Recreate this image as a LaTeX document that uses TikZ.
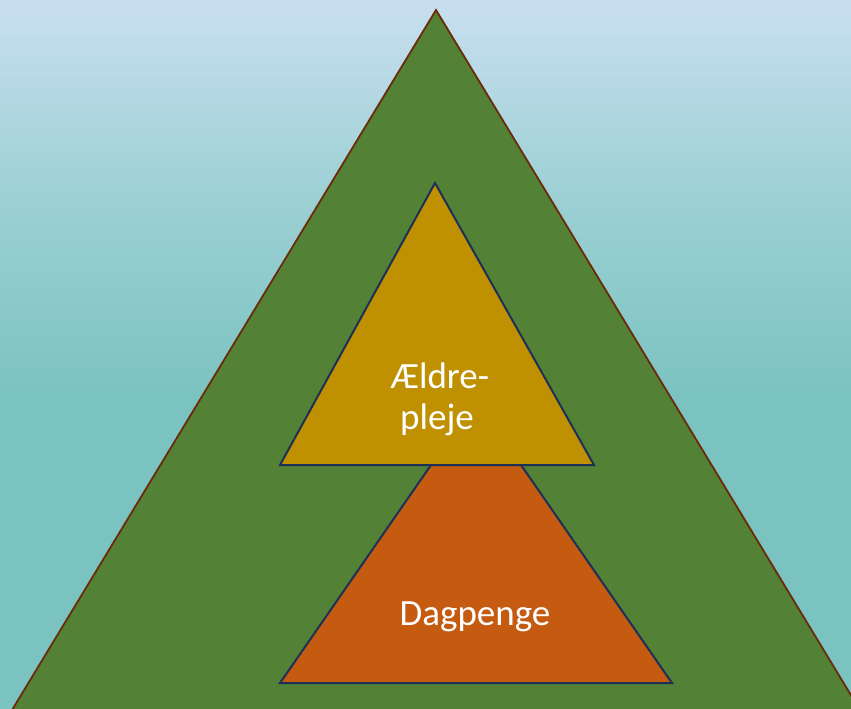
\documentclass[tikz,border=0pt]{standalone}
\usepackage{fontspec}
\setmainfont{Carlito}
\definecolor{bgtop}{HTML}{C9DFF0}
\definecolor{bgmid}{HTML}{9CD0D4}
\definecolor{bgbot}{HTML}{7AC3C0}
\definecolor{grn}{HTML}{538135}
\definecolor{brn}{HTML}{6B2A0A}
\definecolor{ylw}{HTML}{BF9000}
\definecolor{org}{HTML}{C55A11}
\definecolor{dblue}{HTML}{1F3057}
\begin{document}
\begin{tikzpicture}[x=1pt,y=-1pt,
  tri/.style={line width=2pt, line join=miter},
  lbl/.style={text=white, font=\fontsize{37}{43}\selectfont, align=center, inner sep=0pt}]
\useasboundingbox (0,0) rectangle (851,709);
\clip (0,0) rectangle (851,709);
\shade[top color=bgtop, bottom color=bgbot, middle color=bgmid] (0,0) rectangle (851,400);
\fill[bgbot] (0,399) rectangle (851,709);
\coordinate (gA) at (436,10);
\coordinate (gL) at (9,715);
\coordinate (gR) at (863,715);
\filldraw[tri, fill=grn, draw=brn, line width=1.8pt] (gA) -- (gR) -- (gL) -- cycle;
\coordinate (oA) at (476,400);
\coordinate (oL) at (280,683);
\coordinate (oR) at (672,683);
\filldraw[tri, fill=org, draw=dblue] (oA) -- (oR) -- (oL) -- cycle;
\coordinate (yA) at (435,183);
\coordinate (yL) at (280,465);
\coordinate (yR) at (594,465);
\filldraw[tri, fill=ylw, draw=dblue] (yA) -- (yR) -- (yL) -- cycle;
\node[lbl, anchor=base] (t1) at (440,388) {Ældre-};
\node[lbl, anchor=base] (t2) at (437,429) {pleje};
\node[lbl, anchor=base] (t3) at (475,625) {Dagpenge};
\end{tikzpicture}
\end{document}
